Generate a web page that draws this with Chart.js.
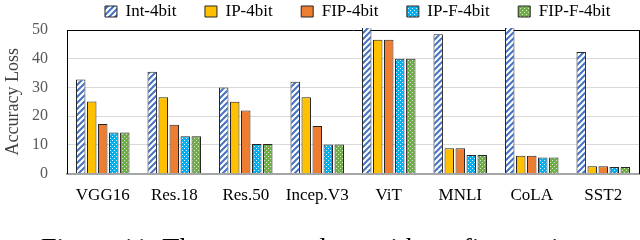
<!DOCTYPE html>
<html>
<head>
<meta charset="utf-8">
<script src="https://cdn.jsdelivr.net/npm/chart.js@4"></script>
<style>
  html, body { margin: 0; padding: 0; background: #fff; }
  body { width: 640px; height: 240px; overflow: hidden; position: relative; }
  #wrap { position: absolute; left: 0; top: 0; width: 640px; height: 240px; }
  #caption {
    position: absolute; left: 41px; top: 234px; white-space: nowrap; line-height: 1;
    font-family: "Liberation Serif", serif; font-size: 28px; color: #000;
  }
</style>
</head>
<body>
<div id="wrap"><canvas id="myChart"></canvas></div>
<div id="caption">Figure 11: The accuracy loss without fine-tuning</div>
<script>
// categories and series
const categories = ["VGG16", "Res.18", "Res.50", "Incep.V3", "ViT", "MNLI", "CoLA", "SST2"];
const seriesNames = ["Int-4bit", "IP-4bit", "FIP-4bit", "IP-F-4bit", "FIP-F-4bit"];
const int4 = [32.8, 35.5, 30.0, 32.0, 60, 48.5, 60, 42.3];
const ip4 = [25.1, 26.6, 25.0, 26.6, 46.6, 8.8, 6.2, 2.6];
const fip4 = [17.3, 17.0, 22.0, 16.6, 46.6, 8.8, 6.2, 2.6];
const ipF4 = [14.3, 13.0, 10.3, 10.1, 40.0, 6.5, 5.6, 2.3];
const fipF4 = [14.3, 13.0, 10.3, 10.1, 40.0, 6.5, 5.6, 2.3];
const yTicks = [0, 10, 20, 30, 40, 50];

const serif = "'Liberation Serif', 'Times New Roman', serif";

// hatch / dot fills
function stripes() {
  const c = document.createElement("canvas");
  c.width = 6; c.height = 6;
  const g = c.getContext("2d");
  g.fillStyle = "#fff";
  g.fillRect(0, 0, 6, 6);
  g.strokeStyle = "#4472C4";
  g.lineWidth = 2;
  g.beginPath();
  g.moveTo(-1, 7); g.lineTo(7, -1);
  g.moveTo(-4, 4); g.lineTo(4, -4);
  g.moveTo(2, 10); g.lineTo(10, 2);
  g.stroke();
  return g.createPattern(c, "repeat");
}

function dots(bg, dot) {
  const c = document.createElement("canvas");
  c.width = 4; c.height = 4;
  const g = c.getContext("2d");
  g.fillStyle = bg;
  g.fillRect(0, 0, 4, 4);
  g.fillStyle = dot;
  g.fillRect(0, 0, 1, 1);
  g.fillRect(2, 2, 1, 1);
  return g.createPattern(c, "repeat");
}

const fills = [stripes(), "#FFC000", "#ED7D31", dots("#00B0F0", "#d9f4ff"), dots("#70AD47", "#d5eac6")];
const values = [int4, ip4, fip4, ipF4, fipF4];

const data = {
  labels: categories,
  datasets: seriesNames.map((name, i) => ({
    label: name,
    data: values[i],
    backgroundColor: fills[i],
    borderColor: "#262626",
    borderWidth: 1,
    categoryPercentage: 0.77,
    barPercentage: 0.86,
    clip: { left: 0, top: 2, right: 0, bottom: 0 },
  })),
};

const config = {
  type: "bar",
  data: data,
  options: {
    responsive: true,
    maintainAspectRatio: false,
    animation: false,
    layout: { padding: { top: 0, right: 1, bottom: 22, left: 0 } },
    plugins: {
      tooltip: { enabled: false },
      legend: {
        position: "top",
        align: "end",
        labels: {
          boxWidth: 12,
          boxHeight: 11,
          padding: 3,
          color: "#000",
          font: { family: serif, size: 17 },
          generateLabels(chart) {
            const items = Chart.defaults.plugins.legend.labels.generateLabels(chart);
            // widen the gap between entries
            items.forEach(it => { it.text = it.text + "      "; });
            return items;
          },
        },
      },
    },
    scales: {
      x: {
        grid: { display: false, drawTicks: false },
        border: { color: "#a6a6a6", width: 2 },
        ticks: { color: "#000", padding: 12, font: { family: serif, size: 17 } },
      },
      y: {
        min: 0,
        max: 50,
        afterBuildTicks: axis => { axis.ticks = yTicks.map(v => ({ value: v })); },
        afterFit: axis => { axis.width = 67; },
        grid: {
          drawTicks: false,
          color: ctx => ctx.tick.value === 50 ? "#000" : (ctx.tick.value === 0 ? "rgba(0,0,0,0)" : "#d9d9d9"),
          lineWidth: 1,
        },
        border: { color: "#000", width: 1 },
        ticks: { color: "#595959", padding: 19, font: { family: serif, size: 16 } },
        title: {
          display: true,
          text: "Accuracy Loss",
          color: "#404040",
          padding: { top: 2, bottom: 0 },
          font: { family: serif, size: 18 },
        },
      },
      y2: {
        position: "right",
        min: 0,
        max: 50,
        grid: { drawOnChartArea: false, drawTicks: false },
        border: { color: "#000", width: 1 },
        ticks: { display: false },
      },
    },
  },
};

const ctx = document.getElementById("myChart").getContext("2d");
new Chart(ctx, config);
</script>
</body>
</html>
